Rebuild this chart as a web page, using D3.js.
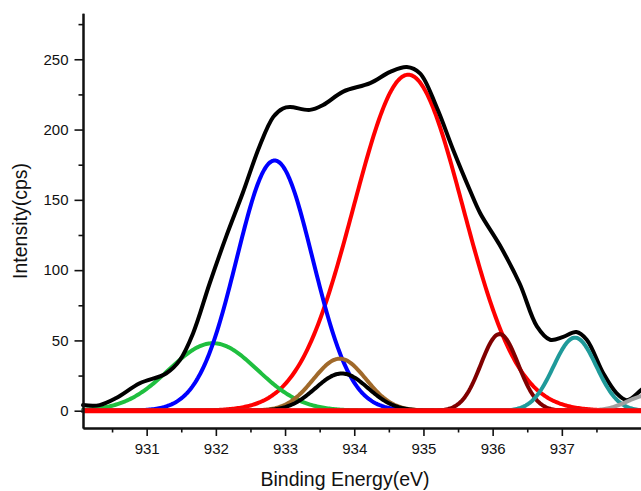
<!DOCTYPE html>
<html lang="en">

<head>
  <meta charset="UTF-8">
  <title>XPS peak fit</title>
  <script src="https://cdn.jsdelivr.net/npm/d3@7/dist/d3.min.js"></script>
  <style>
    html, body { margin: 0; padding: 0; background: #fff; overflow: hidden; }
  </style>
</head>

<body>
  <div id="svg-root"></div>
  <script>
    const energy = [930.08, 930.32, 930.56, 930.90, 931.28, 931.48, 931.67, 931.91, 932.15, 932.39,
      932.63, 932.83, 932.97, 933.07, 933.36, 933.55, 933.84, 934.23, 934.52, 934.76,
      934.95, 935.19, 935.43, 935.67, 935.82, 936.10, 936.39, 936.64, 936.83, 937.02,
      937.21, 937.36, 937.60, 937.79, 937.94, 938.14, 938.3];
    const intensity = [4, 4, 9, 19.5, 26.5, 36, 55, 90.5, 124, 155,
      188, 209, 215, 216, 214, 217.5, 227, 233, 241, 244.5,
      240, 216, 185.5, 157, 140.5, 118, 90.5, 60, 50.5, 52.5,
      56, 50.5, 26.5, 12.5, 7.5, 14.5, 22];

    // fitted component peaks: centre (eV), height (cps), sigma (eV)
    const peakCenters = [931.96, 932.85, 934.78, 933.79, 933.82, 936.10, 937.19, 938.25];
    const peakHeights = [48, 178, 239, 37, 26.5, 54.5, 52, 11];
    const peakSigmas = [0.64, 0.55, 0.79, 0.38, 0.38, 0.27, 0.31, 0.30];
    const peakColors = ['#1fbf3f', '#0000ff', '#ff0000', '#a0692a', '#000000', '#800000', '#1f9a9a', '#a0a0a0'];

    const xTicks = [931, 932, 933, 934, 935, 936, 937];
    const xMinor = [930.5, 931.5, 932.5, 933.5, 934.5, 935.5, 936.5, 937.5];
    const yTicks = [0, 50, 100, 150, 200, 250];
    const yMinor = [25, 75, 125, 175, 225, 275];

    const width = 641, height = 491;
    const font = 'Arial, "Liberation Sans", sans-serif';

    const svg = d3.create('svg')
      .attr('width', width)
      .attr('height', height)
      .style('display', 'block')
      .style('font-family', font);

    // scales (plot runs off the right edge like the original crop)
    const xScale = d3.scaleLinear()
      .domain([930.08, 938.3])
      .range([83, 651.8]);
    const yScale = d3.scaleLinear()
      .domain([-12.3, 282.7])
      .range([428, 13.3]);

    const line = d3.line()
      .x(d => xScale(d[0]))
      .y(d => yScale(d[1]));

    // component curves
    const xs = d3.range(930.08, 938.31, 0.02);
    const comps = peakCenters.map((c, i) => xs.map(x =>
      [x, peakHeights[i] * Math.exp(-((x - c) ** 2) / (2 * peakSigmas[i] ** 2))]));

    const curves = svg.append('g')
      .attr('fill', 'none')
      .attr('stroke-linejoin', 'round')
      .attr('stroke-linecap', 'round');

    const drawComp = i => curves.append('path')
      .datum(comps[i])
      .attr('d', line)
      .attr('stroke', peakColors[i])
      .attr('stroke-width', 4);

    [2, 0, 1, 3, 4, 5].forEach(drawComp);

    // envelope
    curves.append('path')
      .datum(energy.map((e, i) => [e, intensity[i]]))
      .attr('d', line.curve(d3.curveCatmullRom))
      .attr('stroke', '#000')
      .attr('stroke-width', 4);
    line.curve(d3.curveLinear);

    [6, 7].forEach(drawComp);

    // baseline
    curves.append('path')
      .datum([[930.08, 0], [938.3, 0]])
      .attr('d', line)
      .attr('stroke', '#ff0000')
      .attr('stroke-width', 5)
      .attr('stroke-linecap', 'butt');

    // axes
    const styleAxis = g => {
      g.select('.domain').attr('stroke', '#111').attr('stroke-width', 2);
      g.selectAll('.tick line').attr('stroke', '#111').attr('stroke-width', 1.6);
      g.selectAll('.tick text').attr('fill', '#111').style('font-size', '15px').style('font-family', font);
    };

    svg.append('g')
      .attr('transform', 'translate(0,' + 428 + ')')
      .call(d3.axisBottom(xScale).tickValues(xMinor).tickSize(4.5).tickSizeOuter(0).tickFormat(''))
      .call(styleAxis);
    svg.append('g')
      .attr('transform', 'translate(0,' + 428 + ')')
      .call(d3.axisBottom(xScale).tickValues(xTicks).tickSize(8).tickPadding(7).tickSizeOuter(0).tickFormat(d3.format('d')))
      .call(styleAxis);

    svg.append('g')
      .attr('transform', 'translate(' + 83 + ',0)')
      .call(d3.axisLeft(yScale).tickValues(yMinor).tickSize(4.5).tickSizeOuter(0).tickFormat(''))
      .call(styleAxis);
    svg.append('g')
      .attr('transform', 'translate(' + 83 + ',0)')
      .call(d3.axisLeft(yScale).tickValues(yTicks).tickSize(8.5).tickPadding(6).tickSizeOuter(0))
      .call(styleAxis);

    // axis titles
    svg.append('text')
      .attr('x', 345)
      .attr('y', 486)
      .attr('text-anchor', 'middle')
      .style('font-size', '19.5px')
      .attr('fill', '#111')
      .text('Binding Energy(eV)');

    svg.append('text')
      .attr('transform', 'translate(27,221) rotate(-90)')
      .attr('text-anchor', 'middle')
      .style('font-size', '19.5px')
      .attr('fill', '#111')
      .text('Intensity(cps)');

    document.getElementById('svg-root').append(svg.node());
  </script>
</body>

</html>
